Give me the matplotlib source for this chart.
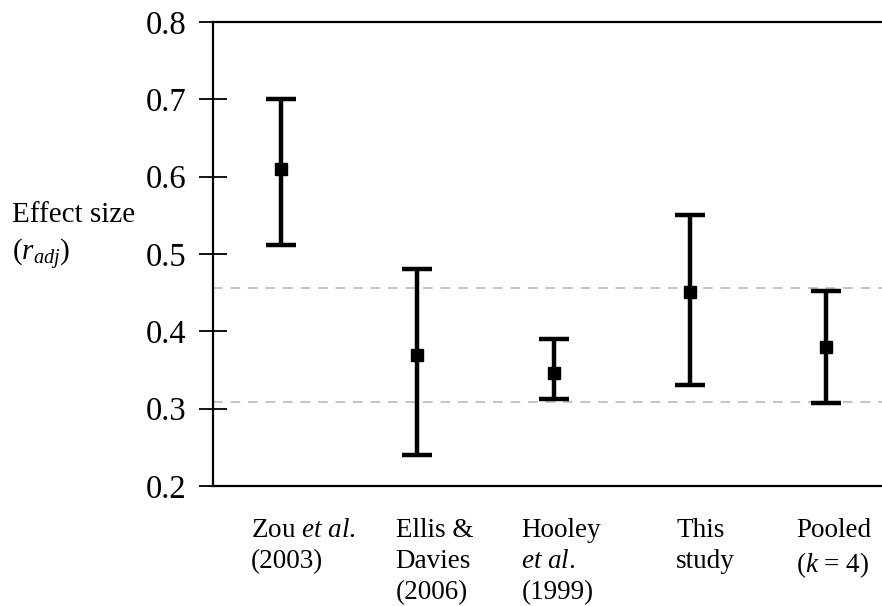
import matplotlib
matplotlib.use("Agg")
import matplotlib.pyplot as plt

plt.rcParams['font.family'] = ['Liberation Serif', 'DejaVu Serif']
plt.rcParams['mathtext.fontset'] = 'custom'
plt.rcParams['mathtext.rm'] = 'Liberation Serif'
plt.rcParams['mathtext.it'] = 'Liberation Serif:italic'

labels = ["Zou $et$ $al.$\n(2003)", "Ellis &\nDavies\n(2006)", "Hooley\n$et$ $al.$\n(1999)",
          "This\nstudy", "Pooled\n($k$ = 4)"]
centers = [0.61, 0.369, 0.346, 0.451, 0.380]
lower = [0.511, 0.240, 0.312, 0.330, 0.307]
upper = [0.700, 0.480, 0.390, 0.550, 0.452]
ref_lines = [0.456, 0.309]
yticks = [0.2, 0.3, 0.4, 0.5, 0.6, 0.7, 0.8]

W, H = 882, 606
fig = plt.figure(figsize=(W / 100, H / 100), dpi=100)
ax = fig.add_axes([213 / W, 1 - 486 / H, 1 - 213 / W, (486 - 22) / H])

xs = list(range(1, len(centers) + 1))
yerr = [[c - l for c, l in zip(centers, lower)], [u - c for c, u in zip(centers, upper)]]

for r in ref_lines:
    ax.axhline(r, color='#c4c4c4', lw=1.4, dashes=(5, 4), zorder=1)

ax.errorbar(xs, centers, yerr=yerr, fmt='s', color='black', ms=8.5, elinewidth=3.2,
            capsize=11, capthick=3.2, zorder=3)

ax.set_xlim(0.5, 0.5 + (W - 213) / 136.2)
ax.set_ylim(0.2, 0.8)
ax.set_yticks(yticks)
ax.set_yticklabels([f"{t:.1f}" for t in yticks], fontsize=23.5)
ax.tick_params(axis='y', direction='inout', length=20, width=1.3, pad=9)
ax.set_xticks([])
for s in ['left', 'top', 'bottom']:
    ax.spines[s].set_linewidth(1.6)
ax.spines['right'].set_visible(False)

# category labels below the axis
label_dx = [-0.22, -0.16, -0.235, -0.10, -0.22]
for x, lab, dx in zip(xs, labels, label_dx):
    ax.text(x + dx, -0.07, lab, transform=ax.get_xaxis_transform(), ha='left', va='top',
            fontsize=19.5, linespacing=1.3)

fig.text(12 / W, 1 - 237 / H, "Effect size\n($r_{adj}$)", ha='left', va='center',
         fontsize=21, linespacing=1.35)

fig.savefig("out.png", dpi=100)
